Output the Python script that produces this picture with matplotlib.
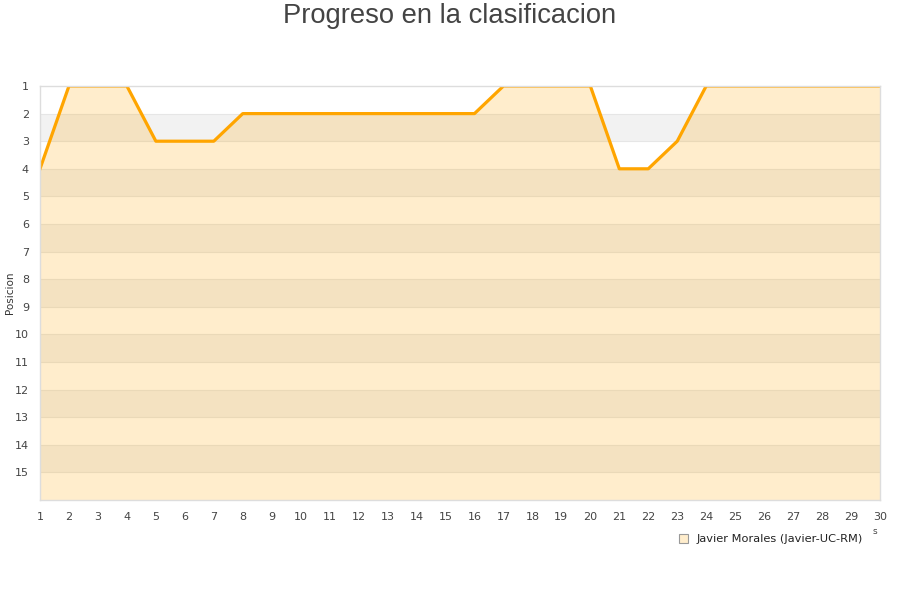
import matplotlib
matplotlib.use('Agg')
import matplotlib.pyplot as plt
from matplotlib.patches import Patch

# jornadas y posicion
jornadas = list(range(1, 31))
posicion = [4, 1, 1, 1, 3, 3, 3, 2, 2, 2, 2, 2, 2, 2, 2, 2,
            1, 1, 1, 1, 4, 4, 3, 1, 1, 1, 1, 1, 1, 1]
y_ticks = list(range(1, 16))
jugador = 'Javier Morales (Javier-UC-RM)'

plt.rcParams['font.family'] = ['DejaVu Sans']

fig = plt.figure(figsize=(9, 6), dpi=100)
ax = fig.add_axes([40 / 900, 1 - 500 / 600, 840 / 900, 414 / 600])

# bandas alternas
for k in range(1, 16):
    if k % 2 == 0:
        ax.axhspan(k, k + 1, color='#f2f2f2', lw=0, zorder=0)
for k in range(2, 16):
    ax.axhline(k, color='#e6e6e6', lw=0.8, zorder=1)

ax.fill_between(jornadas, posicion, 16, color='#ffa500', alpha=0.2, lw=0, zorder=2)
ax.plot(jornadas, posicion, color='#ffa500', lw=2.3, zorder=3)

ax.set_xlim(1, 30)
ax.set_ylim(16, 1)
ax.set_xticks(jornadas)
ax.set_yticks(y_ticks)
ax.tick_params(length=0, labelsize=8, colors='#444444', pad=8)
ax.tick_params(axis='x', pad=9)
for s in ax.spines.values():
    s.set_color('#dddddd')
    s.set_linewidth(1)
    s.set_zorder(4)

fig.text(10 / 900, 1 - 293 / 600, 'Posicion', rotation=90, ha='center', va='center',
         fontsize=7.5, color='#333333')

fig.text(0.5, 1 - 16 / 600, 'Progreso en la clasificacion', ha='center', va='center',
         fontsize=19.7, color='#444444', family='Liberation Sans')

fig.text(875 / 900, 1 - 531 / 600, 's', ha='center', va='center', fontsize=6.5, color='#444444')

leg = fig.legend(handles=[Patch(facecolor='#ffedcc', edgecolor='#999999', lw=0.8)],
                 labels=[jugador], loc='center', bbox_to_anchor=(771 / 900, 1 - 539 / 600),
                 frameon=False, fontsize=8.2, handlelength=0.8, handleheight=0.8,
                 handletextpad=0.8)
for t in leg.get_texts():
    t.set_color('#222222')

fig.savefig('out.png', dpi=100)
